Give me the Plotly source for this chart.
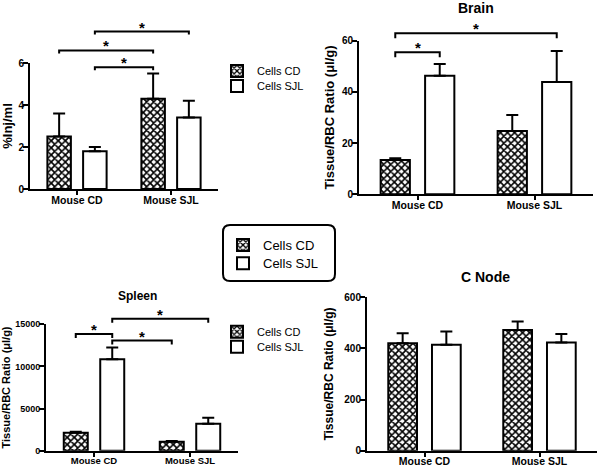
import plotly.graph_objects as go

W, H = 600, 467

# ---------------- data ----------------
categories = ["Mouse CD", "Mouse SJL"]
series_names = ["Cells CD", "Cells SJL"]

# Panel A: %Inj/ml
inj_cd = [2.5, 4.3]
inj_cd_err = [1.1, 1.2]
inj_sjl = [1.8, 3.4]
inj_sjl_err = [0.2, 0.8]

# Brain
brain_cd = [13.4, 24.7]
brain_cd_err = [0.7, 6.3]
brain_sjl = [46.3, 43.9]
brain_sjl_err = [4.6, 12.1]

# Spleen
spleen_cd = [2120, 1070]
spleen_cd_err = [130, 80]
spleen_sjl = [10860, 3210]
spleen_sjl_err = [1380, 710]

# C Node
cnode_cd = [420, 472]
cnode_cd_err = [39, 33]
cnode_sjl = [414, 423]
cnode_sjl_err = [52, 33]

# significance brackets: (cat1, series1, cat2, series2, level)
inj_brackets = [(0, 0, 1, 0, 6.6), (0, 1, 1, 0, 5.8), (0, 1, 1, 1, 7.5)]
brain_brackets = [(0, 0, 0, 1, 55.5), (0, 0, 1, 1, 62.9)]
spleen_brackets = [(0, 0, 0, 1, 13860), (0, 1, 1, 1, 15650), (0, 1, 1, 0, 13070)]
cnode_brackets = []

# ---------------- layout helpers ----------------
FONT = "Liberation Sans"
OFFS = [-0.19, 0.19]
BAR_W = 0.25


def fx(px):
    return px / W


def fy(py):
    return 1 - py / H


panels = [
    dict(data=[(inj_cd, inj_cd_err), (inj_sjl, inj_sjl_err)], brackets=inj_brackets,
         px=(30, 218), py=(63, 189), yrange=[0, 6], yticks=[0, 2, 4, 6],
         ytitle="%Inj/ml", title=None, tickfont=10, titlefont=13, drop=3, standoff=8,
         legends=("legend", "legend2")),
    dict(data=[(brain_cd, brain_cd_err), (brain_sjl, brain_sjl_err)], brackets=brain_brackets,
         px=(359, 593), py=(40.7, 194.3), yrange=[0, 60], yticks=[0, 20, 40, 60],
         ytitle="Tissue/RBC Ratio (μl/g)", title=("Brain", 476, 8, 14), tickfont=10,
         titlefont=13, drop=5, standoff=4, legends=("legend5", "legend6")),
    dict(data=[(spleen_cd, spleen_cd_err), (spleen_sjl, spleen_sjl_err)], brackets=spleen_brackets,
         px=(46, 238), py=(324.3, 450.7), yrange=[0, 15000], yticks=[0, 5000, 10000, 15000],
         ytitle="Tissue/RBC Ratio (μl/g)", title=("Spleen", 137, 296, 12), tickfont=9,
         titlefont=11, drop=4, standoff=9, legends=("legend3", "legend4")),
    dict(data=[(cnode_cd, cnode_cd_err), (cnode_sjl, cnode_sjl_err)], brackets=cnode_brackets,
         px=(367, 597), py=(297.3, 450.7), yrange=[0, 600], yticks=[0, 200, 400, 600],
         ytitle="Tissue/RBC Ratio (μl/g)", title=("C Node", 485, 277, 14), tickfont=10,
         titlefont=12, drop=4, standoff=8, legends=(None, None)),
]

checker = dict(shape="x", size=5, solidity=0.55, fgcolor="black", bgcolor="white", fillmode="replace")
plain = dict(shape="", fgcolor="black", bgcolor="white")
patterns = [checker, plain]

fig = go.Figure()
shapes = []
annotations = []

for i, p in enumerate(panels):
    sfx = "" if i == 0 else str(i + 1)
    xa, ya = "x" + sfx, "y" + sfx
    for s, (vals, errs) in enumerate(p["data"]):
        leg = p["legends"][s]
        fig.add_trace(go.Bar(
            x=[0, 1], y=vals, name=series_names[s],
            width=BAR_W, offset=OFFS[s] - BAR_W / 2,
            marker=dict(color="white", line=dict(color="black", width=2), pattern=patterns[s]),
            error_y=dict(type="data", symmetric=False, array=errs, arrayminus=[0, 0],
                         color="black", thickness=2, width=6),
            xaxis=xa, yaxis=ya, hoverinfo="skip",
            showlegend=leg is not None, legend=leg if leg else "legend",
        ))
    dom_h = p["py"][1] - p["py"][0]
    r0, r1 = p["yrange"]
    fig.layout["xaxis" + sfx] = dict(
        domain=[fx(p["px"][0]), fx(p["px"][1])], range=[-0.5, 1.5], anchor=ya,
        tickvals=[0, 1], ticktext=categories, ticks="outside", ticklen=4, tickwidth=2,
        tickcolor="black", showline=True, linecolor="black", linewidth=2,
        showgrid=False, zeroline=False, automargin=False, ticklabelstandoff=-4,
        tickfont=dict(family=FONT, size=p["tickfont"] + 0.5, color="black", weight="bold"))
    fig.layout["yaxis" + sfx] = dict(
        domain=[fy(p["py"][1]), fy(p["py"][0])], range=p["yrange"], anchor=xa,
        tickvals=p["yticks"], tickformat="d", ticks="outside", ticklen=5, tickwidth=2,
        tickcolor="black", showline=True, linecolor="black", linewidth=2, showgrid=False,
        zeroline=False, automargin=False, ticklabelstandoff=-3,
        tickfont=dict(family=FONT, size=p["tickfont"], color="black", weight="bold"),
        title=dict(text=p["ytitle"], standoff=p["standoff"],
                   font=dict(family=FONT, size=p["titlefont"], color="black", weight="bold")))

    def frac(v):
        return (v - r0) / (r1 - r0)

    for (c1, s1, c2, s2, lvl) in p["brackets"]:
        x1 = c1 + OFFS[s1]
        x2 = c2 + OFFS[s2]
        yh = frac(lvl)
        yl = yh - p["drop"] / dom_h
        shapes.append(dict(type="path", xref=xa, yref=ya + " domain",
                           path=f"M {x1},{yl} L {x1},{yh} L {x2},{yh} L {x2},{yl}",
                           line=dict(color="black", width=2)))
        annotations.append(dict(x=(x1 + x2) / 2, y=yh, xref=xa, yref=ya + " domain",
                                text="*", showarrow=False, yanchor="bottom", yshift=-6,
                                font=dict(family=FONT, size=15, color="black", weight="bold")))
    if p["title"]:
        t, tx, ty, ts = p["title"]
        annotations.append(dict(x=fx(tx), y=fy(ty), xref="paper", yref="paper", text=t,
                                showarrow=False, xanchor="center", yanchor="middle",
                                font=dict(family=FONT, size=ts, color="black", weight="bold")))

# central legend box with rounded corners
l, r, t, b, rad = 223, 335, 225, 281, 7
box = (f"M {fx(l + rad)},{fy(t)} L {fx(r - rad)},{fy(t)} Q {fx(r)},{fy(t)} {fx(r)},{fy(t + rad)} "
       f"L {fx(r)},{fy(b - rad)} Q {fx(r)},{fy(b)} {fx(r - rad)},{fy(b)} "
       f"L {fx(l + rad)},{fy(b)} Q {fx(l)},{fy(b)} {fx(l)},{fy(b - rad)} "
       f"L {fx(l)},{fy(t + rad)} Q {fx(l)},{fy(t)} {fx(l + rad)},{fy(t)} Z")
shapes.append(dict(type="path", xref="paper", yref="paper", path=box,
                   line=dict(color="black", width=2), fillcolor="rgba(0,0,0,0)"))


def leg(xpx, ypx, size):
    return dict(x=fx(xpx), y=fy(ypx), xanchor="left", yanchor="middle",
                bgcolor="rgba(0,0,0,0)", borderwidth=0, itemwidth=30,
                font=dict(family=FONT, size=size, color="black"))


fig.update_layout(
    width=W, height=H, margin=dict(l=0, r=0, t=0, b=0),
    paper_bgcolor="white", plot_bgcolor="white",
    barmode="overlay", shapes=shapes, annotations=annotations,
    legend=leg(217, 71, 11), legend2=leg(217, 86, 11),
    legend3=leg(217, 331.7, 11), legend4=leg(217, 346.7, 11),
    legend5=leg(223, 245, 13), legend6=leg(223, 263.3, 13),
)

fig.write_html("out.html", config={"displayModeBar": False, "staticPlot": True},
               post_script="document.body.style.margin='0px';")
